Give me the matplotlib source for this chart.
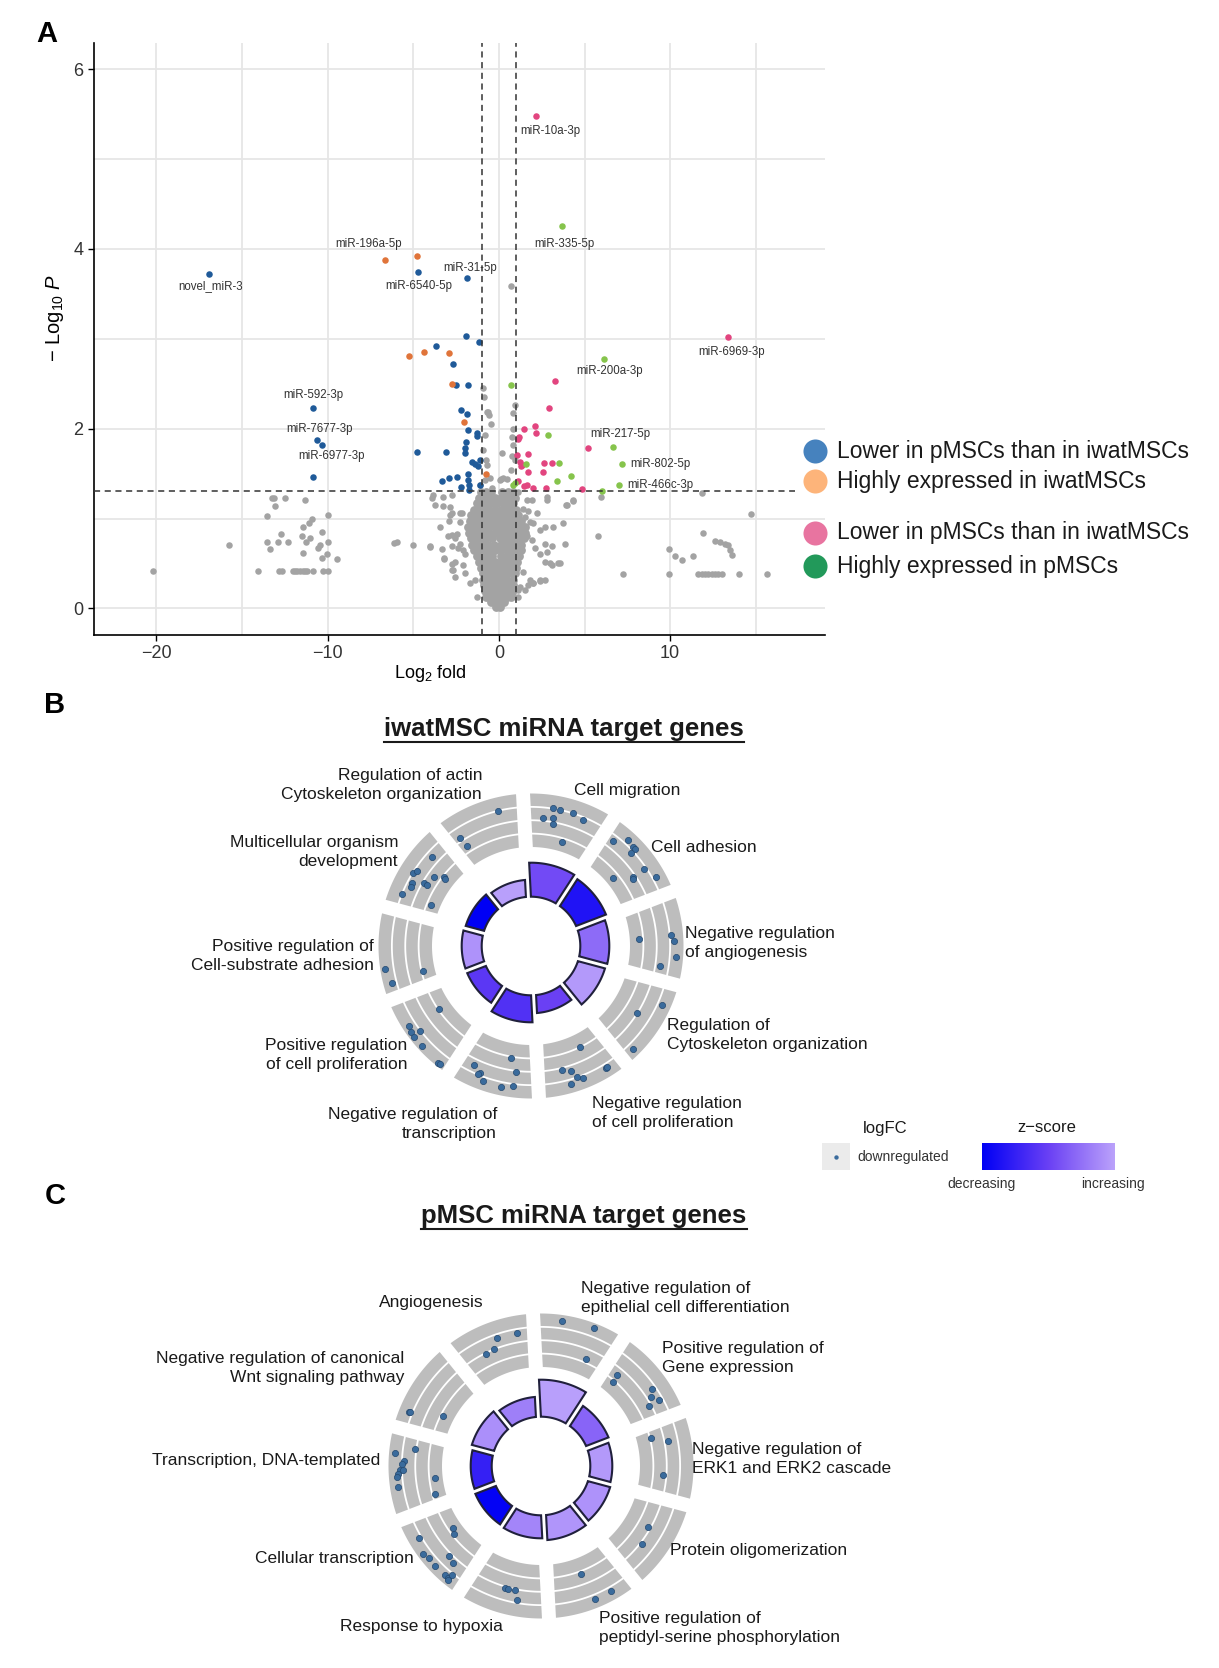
import numpy as np
import matplotlib
matplotlib.use('Agg')
import matplotlib.pyplot as plt
from matplotlib.patches import Polygon, Rectangle
from matplotlib.colors import LinearSegmentedColormap, Normalize

plt.rcParams['font.family'] = ['Liberation Sans', 'DejaVu Sans']
plt.rcParams['mathtext.fontset'] = 'custom'
plt.rcParams['mathtext.rm'] = 'Liberation Sans'
plt.rcParams['mathtext.it'] = 'Liberation Sans:italic'

W, H = 1219, 1668

# ---------------- panel A : volcano data (log2 fold, -log10 P) ----------------
# dense non-significant core, one row per -log10 P level
ns_core = [
    (0.02, [-0.15, 0.05]),
    (0.07, [-0.45, -0.2, 0.05, 0.3]),
    (0.13, [-0.75, -0.5, -0.25, 0.0, 0.25, 0.5, 0.72]),
    (0.19, [-0.82, -0.55, -0.28, 0.0, 0.28, 0.55, 0.78]),
    (0.26, [-0.85, -0.58, -0.3, -0.05, 0.25, 0.52, 0.8]),
    (0.32, [-0.9, -0.62, -0.35, -0.08, 0.2, 0.5, 0.82]),
    (0.39, [-0.95, -0.68, -0.4, -0.12, 0.2, 0.48, 0.75, 0.92]),
    (0.45, [-1.05, -0.78, -0.5, -0.2, 0.15, 0.45, 0.75, 1.0]),
    (0.52, [-1.15, -0.85, -0.55, -0.25, 0.12, 0.42, 0.72, 1.05]),
    (0.58, [-1.28, -1.0, -0.7, -0.38, 0.15, 0.45, 0.75, 1.05, 1.2]),
    (0.65, [-1.45, -1.15, -0.85, -0.55, -0.2, 0.15, 0.45, 0.75, 1.05, 1.3]),
    (0.71, [-1.55, -1.25, -0.95, -0.65, -0.3, 0.1, 0.4, 0.7, 1.0, 1.3]),
    (0.78, [-1.65, -1.35, -1.05, -0.75, -0.4, 0.05, 0.35, 0.65, 0.95, 1.25, 1.45]),
    (0.84, [-1.75, -1.45, -1.15, -0.85, -0.55, -0.2, 0.15, 0.45, 0.75, 1.05, 1.35, 1.55]),
    (0.91, [-1.8, -1.5, -1.2, -0.9, -0.6, -0.25, 0.1, 0.4, 0.7, 1.0, 1.3, 1.55]),
    (0.97, [-1.7, -1.4, -1.1, -0.8, -0.5, -0.2, 0.12, 0.42, 0.72, 1.0, 1.3]),
    (1.04, [-1.6, -1.3, -1.0, -0.7, -0.4, -0.1, 0.2, 0.5, 0.8, 1.1]),
    (1.10, [-1.45, -1.15, -0.85, -0.55, -0.25, 0.1, 0.4, 0.7, 1.0]),
    (1.17, [-1.3, -1.0, -0.7, -0.4, -0.1, 0.25, 0.55, 0.85]),
    (1.23, [-1.15, -0.85, -0.55, -0.25, 0.1, 0.4, 0.7, 0.95]),
    (1.29, [-1.05, -0.75, -0.45, 0.2, 0.55, 0.85]),
]

# scattered non-significant miRNAs
ns_points = [
    (-20.17, 0.42), (-15.74, 0.71), (-13.26, 1.23), (-13.11, 1.23), (-12.49, 1.23), (-11.32, 1.21),
    (-13.07, 1.14), (-13.56, 1.03), (-9.99, 1.04), (-10.93, 1.0), (-11.07, 0.95), (-11.42, 0.90),
    (-10.35, 0.85), (-12.72, 0.83), (-13.56, 0.74), (-12.88, 0.74), (-12.29, 0.74), (-13.36, 0.66),
    (-11.51, 0.80), (-11.26, 0.74), (-11.03, 0.78), (-10.44, 0.71), (-9.99, 0.74), (-10.58, 0.67),
    (-11.45, 0.62), (-10.02, 0.61), (-10.35, 0.56), (-9.43, 0.55),
    (-14.08, 0.42), (-12.82, 0.42), (-12.68, 0.42), (-12.04, 0.42), (-11.9, 0.42), (-11.77, 0.42),
    (-11.61, 0.42), (-11.45, 0.42), (-11.32, 0.42), (-11.18, 0.42), (-10.83, 0.42), (-10.25, 0.42),
    (-9.99, 0.42),
    (-6.11, 0.73), (-5.93, 0.74), (-5.03, 0.71), (-4.02, 0.68), (-3.92, 1.23), (-3.34, 0.66),
    (-3.2, 0.55), (-2.85, 1.13), (-2.76, 1.06), (-2.27, 1.06), (-2.9, 0.97), (-2.76, 0.82),
    (-2.95, 0.81), (-3.25, 1.24), (-2.66, 0.43), (-2.76, 0.49), (-2.56, 0.35),
    (-3.83, 1.26), (-2.76, 1.26), (-3.73, 1.15), (-3.25, 1.14), (-2.85, 1.04), (-2.17, 1.06),
    (-2.27, 0.96), (-3.44, 0.91), (-2.46, 0.83), (-2.56, 0.78), (-2.27, 0.72), (-2.76, 0.69),
    (-2.37, 0.67), (-2.08, 0.65), (-1.98, 0.61), (-3.2, 0.56), (-2.56, 0.52), (-2.08, 0.48),
    (-2.76, 0.43), (-1.98, 0.39), (-1.69, 0.28), (-1.40, 0.32), (-1.3, 0.13), (-4.02, 0.69),
    (-0.91, 2.45), (-0.87, 2.35), (-0.71, 2.19), (-0.56, 2.15), (-0.46, 2.05), (-0.81, 1.93),
    (-0.91, 1.76), (0.16, 1.73), (-0.77, 1.65), (-0.71, 1.60), (-0.52, 1.45), (0.26, 1.45),
    (0.06, 1.43), (0.45, 1.44), (0.69, 3.59), (0.84, 2.0), (0.75, 1.91), (0.80, 1.82),
    (0.94, 1.65), (0.69, 1.54), (-0.42, 1.34), (-0.62, 2.19), (0.84, 2.17), (0.94, 2.26),
    (0.75, 1.69), (-0.81, 1.43), (-1.1, 1.37), (0.11, 1.44),
    (1.13, 1.30), (1.62, 1.21), (1.91, 1.21), (2.79, 1.21), (3.96, 1.15), (4.31, 1.19),
    (5.96, 1.24), (5.77, 0.81), (3.86, 0.72), (3.08, 0.69), (2.79, 0.63), (3.57, 0.50),
    (3.08, 0.48), (2.69, 0.32), (2.40, 0.30), (2.01, 0.28), (1.72, 0.26), (1.13, 0.20),
    (0.84, 0.17), (2.79, 1.24), (3.92, 1.15), (4.34, 1.21), (1.43, 1.11), (1.72, 1.08),
    (1.52, 1.02), (2.21, 1.06), (2.01, 0.95), (1.82, 0.96), (2.40, 0.87), (2.69, 0.91),
    (3.18, 0.91), (3.76, 0.95), (1.62, 0.80), (1.91, 0.76), (2.11, 0.67), (2.40, 0.61),
    (2.69, 0.52), (2.98, 0.50), (3.47, 0.50), (2.69, 0.72), (1.43, 0.41), (1.82, 0.32),
    (2.01, 0.28), (2.40, 0.32), (1.23, 0.24), (1.52, 0.20), (1.13, 0.13),
    (11.84, 1.28), (14.70, 1.05), (11.93, 0.84), (12.62, 0.75), (12.91, 0.74), (13.2, 0.72),
    (13.39, 0.71), (13.49, 0.65), (13.59, 0.59), (9.95, 0.66), (10.28, 0.58), (10.67, 0.54),
    (11.35, 0.58), (7.26, 0.38), (9.95, 0.38), (11.64, 0.38), (11.84, 0.38), (12.03, 0.38),
    (12.22, 0.38), (12.42, 0.38), (12.62, 0.38), (12.81, 0.38), (13.01, 0.38), (14.02, 0.38),
    (15.63, 0.38),
]

iwat_lower = [
    (-16.94, 3.72), (-10.83, 2.23), (-10.6, 1.87), (-10.31, 1.82), (-10.83, 1.46), (-4.74, 3.74),
    (-1.84, 3.68), (-1.92, 3.03), (-1.16, 2.96), (-3.69, 2.92), (-2.70, 2.72), (-2.52, 2.49),
    (-1.82, 2.49), (-2.23, 2.21), (-1.88, 2.16), (-1.79, 1.98), (-1.30, 1.95), (-1.26, 1.92),
    (-4.8, 1.74), (-3.11, 1.74), (-1.94, 1.85), (-1.98, 1.78), (-1.98, 1.73), (-1.59, 1.63),
    (-1.40, 1.61), (-1.20, 1.58), (-1.1, 1.65), (-3.3, 1.42), (-2.9, 1.45), (-2.43, 1.46),
    (-1.82, 1.49), (-1.79, 1.43), (-1.75, 1.37), (-2.23, 1.35), (-1.1, 1.37), (-1.75, 1.32),
]
iwat_high = [
    (-6.67, 3.88), (-4.76, 3.92), (-5.23, 2.81), (-4.35, 2.85), (-2.91, 2.84), (-2.76, 2.50),
    (-2.04, 2.07), (-0.75, 1.49),
]
p_lower = [
    (2.16, 5.48), (13.37, 3.02), (3.27, 2.53), (2.93, 2.23), (1.46, 2.0), (2.1, 2.03),
    (2.16, 1.95), (1.17, 1.91), (1.1, 1.89), (5.2, 1.78), (1.05, 1.71), (1.7, 1.72),
    (1.23, 1.63), (1.34, 1.60), (1.7, 1.52), (2.63, 1.62), (3.1, 1.62), (2.57, 1.52),
    (1.1, 1.42), (1.63, 1.37), (2.0, 1.34), (2.74, 1.34), (4.85, 1.33), (1.45, 1.36), (1.28, 1.58),
]
p_high = [
    (3.68, 4.25), (6.13, 2.78), (0.69, 2.49), (2.86, 1.93), (6.66, 1.79), (1.58, 1.61),
    (3.5, 1.62), (7.18, 1.61), (4.2, 1.47), (3.4, 1.42), (0.84, 1.37), (0.93, 1.39),
    (7.0, 1.37), (6.0, 1.31),
]

mir_names = ['miR-10a-3p', 'miR-335-5p', 'miR-196a-5p', 'miR-6540-5p', 'miR-31-5p', 'novel_miR-3',
             'miR-6969-3p', 'miR-200a-3p', 'miR-592-3p', 'miR-7677-3p', 'miR-6977-3p',
             'miR-217-5p', 'miR-802-5p', 'miR-466c-3p']
mir_fc = [2.16, 3.68, -6.67, -4.74, -1.84, -16.94, 13.37, 6.13, -10.83, -10.6, -10.83, 6.66, 7.18, 7.0]
mir_p = [5.48, 4.25, 3.88, 3.74, 3.68, 3.72, 3.02, 2.78, 2.23, 1.87, 1.46, 1.79, 1.61, 1.37]
# label offsets in pixels (dx right, dy down) and alignment
mir_off = [(14, 15, 'center'), (2, 18, 'center'), (-16, -16, 'center'), (1, 14, 'center'),
           (3, -10, 'center'), (2, 12, 'center'), (4, 15, 'center'), (6, 12, 'center'),
           (0, -13, 'center'), (2, -11, 'center'), (18, -21, 'center'), (7, -13, 'center'),
           (8, 0, 'left'), (8, 0, 'left')]

legend_a = ['Lower in pMSCs than in iwatMSCs', 'Highly expressed in iwatMSCs',
            'Lower in pMSCs than in iwatMSCs', 'Highly expressed in pMSCs']

# ---------------- panels B and C : GO circle data ----------------
b_terms = ['Cell migration', 'Cell adhesion', 'Negative regulation\nof angiogenesis',
           'Regulation of\nCytoskeleton organization', 'Negative regulation\nof cell proliferation',
           'Negative regulation of\ntranscription', 'Positive regulation\nof cell proliferation',
           'Positive regulation of\nCell-substrate adhesion', 'Multicellular organism\ndevelopment',
           'Regulation of actin\nCytoskeleton organization']
b_sig = [3.4, 3.2, 2.9, 2.8, 1.8, 2.7, 2.0, 2.0, 1.9, 1.7]
b_z = [-2.35, -3.55, -1.85, -1.15, -2.5, -2.85, -2.7, -1.25, -4.0, -1.05]
# genes: (position inside the term sector in degrees, logFC)
b_genes = [
    [(8.2, -1.8), (12, -0.96), (12.8, -1.72), (14.9, -1.04), (13.2, -2.16), (20.4, -0.96), (25.4, -1.24), (19.5, -3.28)],
    [(5.1, -1.44), (9.6, -0.64), (12.8, -0.76), (14.1, -0.8), (14.1, -1.24), (22.8, -1.2), (28.2, -0.76),
     (17.3, -3.44), (22.9, -2.16), (23.9, -2.28)],
    [(17.5, -3.32), (16.5, -0.92), (18.9, -0.68), (25.2, -0.56), (29.8, -1.64)],
    [(9.3, -0.68), (17.5, -2.04), (30.3, -0.56)],
    [(13, -3.04), (25.1, -1.88), (21.3, -1.56), (19.5, -1.04), (17.6, -0.84), (23, -0.68), (7.5, -0.68), (6.7, -0.72)],
    [(13.1, -2.88), (28.6, -1.56), (24.9, -1.2), (25.7, -1.04), (22.7, -0.72), (9.8, -1.88), (15.1, -0.6), (10.2, -0.88)],
    [(22.6, -3.04), (23.9, -0.48), (21.6, -0.36), (19.6, -0.96), (19.1, -0.36), (14.4, -0.36), (5.3, -0.24), (4.6, -0.28)],
    [(11.9, -0.36), (6, -0.64), (8, -3.12)],
    [(27, -1.44), (16.9, -1.04), (18.4, -1.2), (12.7, -1.32), (11.2, -1.4), (15.5, -2.08), (15.7, -2.4),
     (20.6, -2.52), (23.3, -3.08), (22.8, -3.28), (6.8, -1.0), (7.2, -3.32)],
    [(25.1, -1.0), (5.8, -1.72), (6.6, -2.52)],
]

c_terms = ['Negative regulation of\nepithelial cell differentiation', 'Positive regulation of\nGene expression',
           'Negative regulation of\nERK1 and ERK2 cascade', 'Protein oligomerization',
           'Positive regulation of\npeptidyl-serine phosphorylation', 'Response to hypoxia',
           'Cellular transcription', 'Transcription, DNA-templated',
           'Negative regulation of canonical\nWnt signaling pathway', 'Angiogenesis']
c_sig = [3.7, 2.4, 2.2, 2.3, 2.5, 2.3, 2.2, 2.1, 2.3, 2.0]
c_z = [-1.05, -1.95, -1.15, -1.25, -1.2, -1.45, -3.95, -3.25, -1.3, -1.55]
c_genes = [
    [(11.1, -0.48), (24.1, -0.36), (25.6, -2.72)],
    [(6.9, -2.52), (7.7, -3.12), (22.3, -1.28), (25.1, -1.68), (27.6, -1.28), (28, -2.16)],
    [(6.8, -2.88), (10, -1.72), (25.4, -2.24)],
    [(14.6, -2.2), (22.6, -1.84)],
    [(18.7, -2.8), (9.9, -0.68), (17, -0.64)],
    [(19.4, -1.92), (17.8, -1.88), (14.8, -1.92), (13.3, -1.24)],
    [(21.9, -3.4), (18.9, -3.16), (26.4, -0.84), (20.3, -0.44), (17.6, -0.6), (13.6, -0.52),
     (12.8, -1.76), (9.1, -1.64), (8.3, -0.52), (6.7, -0.56), (6.3, -0.84), (6.0, -0.4)],
    [(26.1, -0.44), (28.7, -1.92), (23.1, -1.12), (22, -1.0), (19.2, -0.88), (17.9, -0.72),
     (16.6, -0.6), (12.7, -0.56), (19.2, -1.08), (14.7, -3.44), (6, -3.2)],
    [(7.2, -0.72), (7.5, -0.8), (12.1, -3.2)],
    [(28.9, -1.28), (19.9, -1.28), (17.1, -2.0), (12.9, -2.08)],
]

# ---------------- layout (pixel units) ----------------
fig = plt.figure(figsize=(W / 100, H / 100), dpi=100)
ov = fig.add_axes([0, 0, 1, 1], zorder=5)
ov.set_xlim(0, W)
ov.set_ylim(H, 0)
ov.axis('off')

# panel A
ax = fig.add_axes([94 / W, 1 - 635 / H, (825 - 94) / W, (635 - 43) / H])
ax.set_xlim(-23.64, 19.04)
ax.set_ylim(-0.296, 6.29)
ax.set_xticks([-20, -10, 0, 10])
ax.set_xticks([-15, -5, 5, 15], minor=True)
ax.set_yticks([0, 2, 4, 6])
ax.set_yticks([1, 3, 5], minor=True)
ax.grid(which='both', color='#e6e6e6', lw=1.3)
ax.set_axisbelow(True)
for s in ('top', 'right'):
    ax.spines[s].set_visible(False)
for s in ('left', 'bottom'):
    ax.spines[s].set_linewidth(1.2)
ax.tick_params(which='major', length=4, width=1, labelsize=13, labelcolor='#333333')
ax.tick_params(which='minor', length=0)

fc_cut, p_cut = 1.0, 0.05
for v in (-fc_cut, fc_cut):
    ax.axvline(v, color='#333333', ls=(0, (4, 3)), lw=1.1, zorder=4)
ax.hlines(-np.log10(p_cut), -23.64, 17.3, color='#333333', linestyles=(0, (4, 3)), lw=1.1, zorder=4)

core_x = [x for yv, xs in ns_core for x in xs]
core_y = [yv for yv, xs in ns_core for x in xs]
ax.scatter(core_x, core_y, s=40, c='#a3a3a3', lw=0, zorder=2)
ax.scatter(*zip(*ns_points), s=22, c='#a3a3a3', lw=0, zorder=2)
for pts, col in ((iwat_lower, '#1f5a99'), (iwat_high, '#e0743a'),
                 (p_lower, '#e2457f'), (p_high, '#86c44c')):
    ax.scatter(*zip(*pts), s=22, c=col, lw=0, zorder=3)

for name, x, y, (dx, dy, ha) in zip(mir_names, mir_fc, mir_p, mir_off):
    ax.annotate(name, (x, y), xytext=(dx * 0.72, -dy * 0.72), textcoords='offset points',
                ha=ha, va='center', fontsize=8.3, color='#333333')

ov.text(55, 318, r'$-$ Log$_{10}$ $\it{P}$', rotation=90, ha='center', va='center', fontsize=14.5)
ov.text(430, 673, r'Log$_2$ fold', ha='center', va='center', fontsize=13)

leg_cols = ['#4682be', '#fdb47a', '#e874a0', '#22995a']
for lab, col, yy in zip(legend_a, leg_cols, [451, 481, 533, 566]):
    ov.scatter([815], [yy], s=300, c=col, lw=0)
    ov.text(837, yy, lab, va='center', ha='left', fontsize=16.5, color='#1a1a1a')

# panel letters and titles
for let, (x, y) in zip('ABC', [(47, 34), (55, 705), (55, 1196)]):
    ov.text(x, y, let, fontsize=21, fontweight='bold', ha='center', va='center')

titles = []
for txt, (x, y) in zip(['iwatMSC miRNA target genes', 'pMSC miRNA target genes'], [(564, 729), (584, 1216)]):
    titles.append(ov.text(x, y, txt, fontsize=18.5, fontweight='bold', ha='center', va='center',
                          color='#1a1a1a'))

# ---------------- GO circles ----------------
cmap = LinearSegmentedColormap.from_list('zs', ['#0000f5', '#6a40f4', '#bba2fb'])
norm = Normalize(vmin=-4.0, vmax=-1.0)
ROT = -3.0
R_IN = 49.3
R0, R1 = 99.0, 152.5
LFC_MIN, LFC_MAX = -4.0, 0.0


def xy(r, t):
    t = np.radians(t)
    return r * np.sin(t), r * np.cos(t)


def sector(a, t0, t1, r0, r1, gap, **kw):
    pts = []
    for r, rev in ((r1, False), (r0, True)):
        d = np.degrees(np.arcsin(gap / 2 / r))
        ang = np.linspace(t0 + d, t1 - d, 40)
        if rev:
            ang = ang[::-1]
        pts += [xy(r, t) for t in ang]
    a.add_patch(Polygon(pts, closed=True, **kw))


def go_circle(cx, cy, sig, zs, genes):
    a = fig.add_axes([(cx - 200) / W, 1 - (cy + 200) / H, 400 / W, 400 / H])
    a.set_xlim(-200, 200)
    a.set_ylim(-200, 200)
    a.axis('off')
    n = len(sig)
    step = 360 / n
    for k in range(n):
        t0 = ROT + step * k
        t1 = t0 + step
        sector(a, t0, t1, R0, R1, 14, facecolor='#bdbdbd', edgecolor='none')
        for q in (0.25, 0.5, 0.75):
            r = R0 + q * (R1 - R0)
            d = np.degrees(np.arcsin(7 / r))
            ang = np.linspace(t0 + d, t1 - d, 40)
            px, py = xy(r, ang)
            a.plot(px, py, color='white', lw=1.3)
        sector(a, t0, t1, R_IN, R_IN + 10 * sig[k], 5, facecolor=cmap(norm(zs[k])),
               edgecolor='#20203c', lw=1.5)
        gx, gy = [], []
        for pos, lfc in genes[k]:
            r = R0 + (lfc - LFC_MIN) / (LFC_MAX - LFC_MIN) * (R1 - R0)
            px, py = xy(r, t0 + pos)
            gx.append(px)
            gy.append(py)
        a.scatter(gx, gy, s=20, c='#3a6b9c', edgecolors='#24486e', lw=0.5, zorder=3)


go_circle(531, 946, b_sig, b_z, b_genes)
go_circle(541, 1466, c_sig, c_z, c_genes)

b_lab_pos = [(574, 790, 'left'), (651, 847, 'left'), (685, 943, 'left'), (667, 1035, 'left'),
             (592, 1113, 'left'), (497, 1124, 'right'), (407, 1055, 'right'), (374, 956, 'right'),
             (398, 852, 'right'), (482, 785, 'right')]
c_lab_pos = [(581, 1298, 'left'), (662, 1358, 'left'), (692, 1459, 'left'), (670, 1551, 'left'),
             (599, 1628, 'left'), (503, 1626, 'right'), (414, 1558, 'right'), (380, 1460, 'right'),
             (404, 1368, 'right'), (484, 1302, 'right')]
for terms, poss in ((b_terms, b_lab_pos), (c_terms, c_lab_pos)):
    for t, (x, y, ha) in zip(terms, poss):
        ov.text(x, y, t, ha=ha, va='center', fontsize=12.5, color='#1a1a1a', linespacing=1.4)

# legend for the circles
ov.text(885, 1128, 'logFC', ha='center', va='center', fontsize=12, color='#1a1a1a')
ov.add_patch(Rectangle((822, 1143), 28, 27, facecolor='#ebebeb', edgecolor='none'))
ov.scatter([836], [1157], s=10, c='#3a6b9c', lw=0)
ov.text(857, 1157, 'downregulated', ha='left', va='center', fontsize=10, color='#333333')
ov.text(1047, 1128, 'z\u2212score', ha='center', va='center', fontsize=12, color='#1a1a1a')
cb = fig.add_axes([982 / W, 1 - 1170 / H, 133 / W, 27 / H], zorder=6)
cb.imshow(np.linspace(-4.0, -1.0, 256)[None, :], aspect='auto', cmap=cmap, norm=norm)
cb.axis('off')
ov.text(982, 1184, 'decreasing', ha='center', va='center', fontsize=10, color='#333333')
ov.text(1113, 1184, 'increasing', ha='center', va='center', fontsize=10, color='#333333')

# underline titles
fig.canvas.draw()
inv = ov.transData.inverted()
for t in titles:
    bb = t.get_window_extent()
    (x0, y0), (x1, _) = inv.transform([(bb.x0, bb.y0), (bb.x1, bb.y0)])
    ov.plot([x0, x1], [y0 + 1, y0 + 1], color='#1a1a1a', lw=1.5)

fig.savefig('out.png', dpi=100)
